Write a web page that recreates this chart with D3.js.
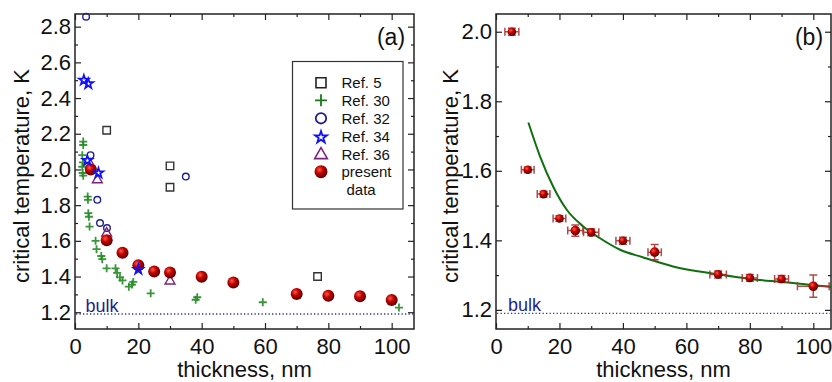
<!DOCTYPE html>
<html>
<head>
<meta charset="utf-8">
<script src="https://cdn.jsdelivr.net/npm/d3@7"></script>
<style>
  body { margin: 0; background: #fff; }
  svg { display: block; font-family: "Liberation Sans", Arial, sans-serif; }
</style>
</head>
<body>
<div id="chart"></div>
<script>
// ---- data ----
var presentD     = [5, 10, 15, 20, 25, 30, 40, 50, 70, 80, 90, 100]
var presentTc    = [2.0, 1.603, 1.533, 1.463, 1.428, 1.423, 1.399, 1.366, 1.302, 1.292, 1.289, 1.268]
var presentDerr  = [2.2, 2.0, 2.0, 2.0, 2.4, 2.4, 2.2, 2.1, 2.6, 2.4, 2.2, 5.0]
var presentTcErr = [0.010, 0.008, 0.008, 0.008, 0.016, 0.010, 0.010, 0.022, 0.010, 0.010, 0.010, 0.032]

var ref5D  = [10, 30, 30, 76.6]
var ref5Tc = [2.22, 2.02, 1.90, 1.40]

var ref30D  = [2.6, 2.6, 2.3, 2.5, 2.3, 2.4, 2.6, 4.0, 4.1, 4.2, 4.4, 4.6, 6.5, 6.8, 8.3, 8.6,
               10, 12.8, 13.3, 14.2, 15.0, 17.0, 18.0, 18.4, 23.9, 38.1, 38.6, 59.3, 102.3]
var ref30Tc = [2.156, 2.137, 2.08, 2.04, 2.015, 1.98, 1.965, 1.848, 1.83, 1.755, 1.735, 1.68,
               1.60, 1.553, 1.515, 1.497, 1.446, 1.446, 1.42, 1.395, 1.378, 1.343, 1.355, 1.370,
               1.306, 1.270, 1.284, 1.256, 1.226]

var ref32D  = [3.5, 4.9, 35, 7.05, 7.9, 10.1]
var ref32Tc = [2.856, 2.08, 1.96, 1.83, 1.70, 1.672]

var ref34D  = [2.8, 4.2, 3.9, 7.4, 20]
var ref34Tc = [2.50, 2.48, 2.05, 1.98, 1.44]

var ref36D  = [4.9, 7.05, 10, 30]
var ref36Tc = [2.03, 1.947, 1.648, 1.38]

// fitted curve of panel (b)
var fitD  = [10.2, 13.9, 18.0, 22.3, 27.5, 32.8, 39.1, 46.0, 55.8, 69.5, 80, 90.5, 105.7]
var fitTc = [1.739, 1.641, 1.555, 1.488, 1.440, 1.406, 1.373, 1.352, 1.325, 1.303, 1.289, 1.280, 1.266]

var bulkTc = 1.19

var legendLabels = ["Ref. 5", "Ref. 30", "Ref. 32", "Ref. 34", "Ref. 36", "present"]

var W = 832, H = 382

var svg = d3.select("#chart").append("svg")
  .attr("width", W).attr("height", H)

var defs = svg.append("defs")
var grad = defs.append("radialGradient").attr("id", "ball")
  .attr("cx", "38%").attr("cy", "35%").attr("r", "65%")
grad.append("stop").attr("offset", "0%").attr("stop-color", "#ff5a45")
grad.append("stop").attr("offset", "45%").attr("stop-color", "#c20000")
grad.append("stop").attr("offset", "100%").attr("stop-color", "#5e0000")

var green = "#238b23", navy = "#1f1f8f", blue = "#1010ff", purple = "#7f1f80", dark = "#222"

function makePanel(opt) {
  var x = d3.scaleLinear().domain(opt.xdom).range([opt.left, opt.right])
  var y = d3.scaleLinear().domain(opt.ydom).range([opt.bottom, opt.top])
  var g = svg.append("g")

  var xMajor = d3.range(0, 101, 20), xMinor = d3.range(10, 101, 20)
  var yMajor = opt.yMajor, yMinor = opt.yMinor

  function ax(axis, pos, vals, len, labels) {
    var a = axis.tickValues(vals).tickSizeInner(-len).tickSizeOuter(0)
    if (!labels) a.tickFormat("")
    var sel = g.append("g").attr("transform", pos).call(a)
    sel.select(".domain").remove()
    sel.selectAll("line").attr("stroke", dark).attr("stroke-width", 1.2)
    sel.selectAll("text").attr("font-size", 22).attr("fill", "#111")
      .attr("font-family", "'Liberation Sans', Arial, sans-serif")
    return sel
  }
  ax(d3.axisBottom(x).tickPadding(9), "translate(0," + opt.bottom + ")", xMajor, 6, true)
  ax(d3.axisBottom(x), "translate(0," + opt.bottom + ")", xMinor, 3, false)
  ax(d3.axisTop(x), "translate(0," + opt.top + ")", xMajor, 6, false)
  ax(d3.axisTop(x), "translate(0," + opt.top + ")", xMinor, 3, false)
  ax(d3.axisLeft(y).tickPadding(4).tickFormat(d3.format(".1f")), "translate(" + opt.left + ",0)", yMajor, 6, true)
  ax(d3.axisLeft(y), "translate(" + opt.left + ",0)", yMinor, 3, false)
  ax(d3.axisRight(y), "translate(" + opt.right + ",0)", yMajor, 6, false)
  ax(d3.axisRight(y), "translate(" + opt.right + ",0)", yMinor, 3, false)

  g.append("rect")
    .attr("x", opt.left).attr("y", opt.top)
    .attr("width", opt.right - opt.left).attr("height", opt.bottom - opt.top)
    .attr("fill", "none").attr("stroke", dark).attr("stroke-width", 1.5)

  // bulk line
  g.append("line")
    .attr("x1", opt.left + 1).attr("x2", opt.right - 1)
    .attr("y1", y(bulkTc)).attr("y2", y(bulkTc))
    .attr("stroke", "#3333aa").attr("stroke-width", 1.3).attr("stroke-dasharray", "1.3,2.2")
  g.append("text").attr("x", x(opt.bulkX)).attr("y", y(bulkTc) - 2.5)
    .attr("font-size", 18).attr("fill", navy).text("bulk")

  // axis titles
  g.append("text").attr("x", (opt.left + opt.right) / 2).attr("y", 377)
    .attr("text-anchor", "middle").attr("font-size", 22).attr("fill", "#111")
    .text("thickness, nm")
  g.append("text").attr("transform", "translate(" + opt.titleX + ",176) rotate(-90)")
    .attr("text-anchor", "middle").attr("font-size", 22).attr("fill", "#111")
    .text("critical temperature, K")
  g.append("text").attr("x", opt.tagX).attr("y", 45)
    .attr("text-anchor", "middle").attr("font-size", 23).attr("fill", "#111")
    .text(opt.tag)

  return { g: g, x: x, y: y }
}

function plusPath(s) { return "M" + (-s) + ",0H" + s + "M0," + (-s) + "V" + s }

// ---- panel (a) ----
var pa = makePanel({
  left: 75, right: 414, top: 14, bottom: 329,
  xdom: [0, 107.05], ydom: [1.106, 2.871],
  yMajor: d3.range(1.2, 2.81, 0.2), yMinor: d3.range(1.3, 2.71, 0.2),
  bulkX: 3.3, titleX: 29, tagX: 391, tag: "(a)"
})

var ga = pa.g, xa = pa.x, ya = pa.y

ga.selectAll(".r30").data(d3.zip(ref30D, ref30Tc)).join("path")
  .attr("d", plusPath(4))
  .attr("transform", d => "translate(" + xa(d[0]) + "," + ya(d[1]) + ")")
  .attr("stroke", green).attr("stroke-width", 1.8).attr("fill", "none").attr("opacity", 0.9)

ga.selectAll(".r5").data(d3.zip(ref5D, ref5Tc)).join("path")
  .attr("d", d3.symbol(d3.symbolSquare, 56)())
  .attr("transform", d => "translate(" + xa(d[0]) + "," + ya(d[1]) + ")")
  .attr("stroke", "#333").attr("stroke-width", 1.4).attr("fill", "none")

ga.selectAll(".r32").data(d3.zip(ref32D, ref32Tc)).join("circle")
  .attr("cx", d => xa(d[0])).attr("cy", d => ya(d[1])).attr("r", 3.3)
  .attr("stroke", navy).attr("stroke-width", 1.4).attr("fill", "none")

ga.selectAll(".r36").data(d3.zip(ref36D, ref36Tc)).join("path")
  .attr("d", d3.symbol(d3.symbolTriangle, 42)())
  .attr("transform", d => "translate(" + xa(d[0]) + "," + (ya(d[1]) + 1) + ")")
  .attr("stroke", purple).attr("stroke-width", 1.4).attr("fill", "none")

ga.selectAll(".pres").data(d3.zip(presentD, presentTc)).join("circle")
  .attr("cx", d => xa(d[0])).attr("cy", d => ya(d[1])).attr("r", 6)
  .attr("fill", "url(#ball)")

ga.selectAll(".r34").data(d3.zip(ref34D, ref34Tc)).join("path")
  .attr("d", d3.symbol(d3.symbolStar, 30)())
  .attr("transform", d => "translate(" + xa(d[0]) + "," + ya(d[1]) + ")")
  .attr("stroke", blue).attr("stroke-width", 1.7).attr("fill", "none")

// legend
var lg = ga.append("g")
lg.append("rect").attr("x", 292.5).attr("y", 61.5).attr("width", 110.5).attr("height", 147.5)
  .attr("fill", "#fff").attr("stroke", "#333").attr("stroke-width", 1.2)
var rowY = [82.7, 100.3, 118.3, 136.3, 154, 171.7]
var sx = 321
lg.append("path").attr("d", d3.symbol(d3.symbolSquare, 100)())
  .attr("transform", "translate(" + sx + "," + rowY[0] + ")")
  .attr("stroke", "#222").attr("stroke-width", 1.6).attr("fill", "none")
lg.append("path").attr("d", plusPath(6))
  .attr("transform", "translate(" + sx + "," + rowY[1] + ")")
  .attr("stroke", "#157a15").attr("stroke-width", 1.8).attr("fill", "none")
lg.append("circle").attr("cx", sx).attr("cy", rowY[2]).attr("r", 5.2)
  .attr("stroke", navy).attr("stroke-width", 1.8).attr("fill", "none")
lg.append("path").attr("d", d3.symbol(d3.symbolStar, 44)())
  .attr("transform", "translate(" + sx + "," + (rowY[3] + 1) + ")")
  .attr("stroke", blue).attr("stroke-width", 1.8).attr("fill", "none")
lg.append("path").attr("d", d3.symbol(d3.symbolTriangle, 70)())
  .attr("transform", "translate(" + sx + "," + (rowY[4] + 1) + ")")
  .attr("stroke", purple).attr("stroke-width", 1.6).attr("fill", "none")
lg.append("circle").attr("cx", sx).attr("cy", rowY[5]).attr("r", 6.5).attr("fill", "url(#ball)")
lg.selectAll(".lt").data(legendLabels).join("text")
  .attr("x", 341.5).attr("y", (d, i) => rowY[i] + 5.5)
  .attr("font-size", 15).attr("fill", "#111").text(d => d)
lg.append("text").attr("x", 346.5).attr("y", 194.8).attr("font-size", 15).attr("fill", "#111").text("data")

// ---- panel (b) ----
var pb = makePanel({
  left: 496, right: 831, top: 14, bottom: 329,
  xdom: [0, 105.58], ydom: [1.145, 2.051],
  yMajor: d3.range(1.2, 2.01, 0.2), yMinor: d3.range(1.3, 1.91, 0.2),
  bulkX: 3.8, titleX: 458, tagX: 809, tag: "(b)"
})
var gb = pb.g, xb = pb.x, yb = pb.y

var line = d3.line().x(d => xb(d[0])).y(d => yb(d[1])).curve(d3.curveMonotoneX)
gb.append("path").attr("d", line(d3.zip(fitD, fitTc)))
  .attr("fill", "none").attr("stroke", "#107010").attr("stroke-width", 2)

var errCol = "#a52a2a"
var pts = presentD.map((d, i) => ({ d: d, t: presentTc[i], de: presentDerr[i], te: presentTcErr[i] }))
var eb = gb.selectAll(".eb").data(pts).join("g").attr("opacity", 0.85)
eb.append("path").attr("fill", "none").attr("stroke", errCol).attr("stroke-width", 1.5)
  .attr("d", p => {
    var cx = xb(p.d), cy = yb(p.t)
    var x0 = xb(p.d - p.de), x1 = xb(p.d + p.de), y0 = yb(p.t - p.te), y1 = yb(p.t + p.te)
    return "M" + x0 + "," + cy + "H" + x1 +
      "M" + x0 + "," + (cy - 4) + "V" + (cy + 4) +
      "M" + x1 + "," + (cy - 4) + "V" + (cy + 4) +
      "M" + cx + "," + y0 + "V" + y1 +
      "M" + (cx - 4) + "," + y0 + "H" + (cx + 4) +
      "M" + (cx - 4) + "," + y1 + "H" + (cx + 4)
  })
gb.selectAll(".pb").data(pts).join("circle")
  .attr("cx", p => xb(p.d)).attr("cy", p => yb(p.t))
  .attr("r", (p, i) => i == 4 || i == 7 || i == 11 ? 4.8 : 4.3)
  .attr("fill", "url(#ball)")
</script>
</body>
</html>
